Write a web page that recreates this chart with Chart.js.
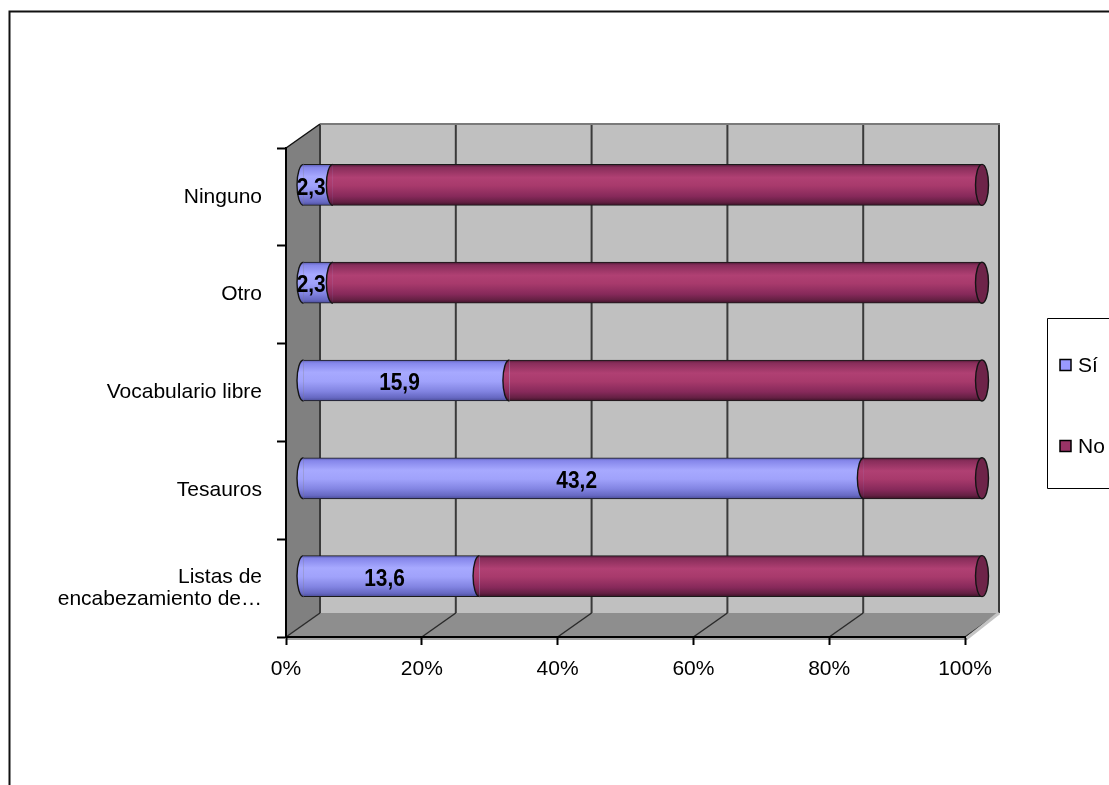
<!DOCTYPE html>
<html lang="es">
<head>
<meta charset="utf-8">
<title>Lenguajes de indización</title>
<script src="https://cdn.jsdelivr.net/npm/chart.js@4.4.0/dist/chart.umd.min.js"></script>
<style>
  html, body { margin: 0; padding: 0; background: #ffffff; }
  #wrap { width: 1109px; height: 785px; position: relative; }
  canvas { display: block; }
</style>
</head>
<body>
<div id="wrap"><canvas id="chart" width="1109" height="785"></canvas></div>
<script>
// ---- data ----
const categories = ['Ninguno', 'Otro', 'Vocabulario libre', 'Tesauros', ['Listas de', 'encabezamiento de…']];
const seriesNames = ['Sí', 'No'];
const siValues = [2.3, 2.3, 15.9, 43.2, 13.6];
const noValues = [50.0, 50.0, 36.4, 9.1, 38.7];
const percentTicks = ['0%', '20%', '40%', '60%', '80%', '100%'];

// each row is shown as a 100 % stack
const rowTotals = siValues.map((v, i) => v + noValues[i]);
const siShare = siValues.map((v, i) => v / rowTotals[i] * 100);
const noShare = noValues.map((v, i) => v / rowTotals[i] * 100);

// ---- look ----
const FONT = "'Liberation Sans', Arial, sans-serif";
const SERIES_COLORS = ['#9999ff', '#993366'];
const SHADES = [
  [[0, '#5a5cb0'], [0.07, '#8586ea'], [0.3, '#a7a9ff'], [0.52, '#a0a2fb'], [0.76, '#8284e2'], [0.92, '#6668c2'], [1, '#4a4c96']],
  [[0, '#4a1933'], [0.07, '#872d5a'], [0.32, '#b04073'], [0.52, '#a83a6c'], [0.78, '#86295a'], [0.92, '#642043'], [1, '#3c1227']]
];
const END_FACE = '#6e2449';
const DEPTH_X = 34, DEPTH_Y = -24;   // oblique depth of the plot box
const CAP_RX = 6.5;                   // horizontal radius of the cylinder ends
const BAR_THICK = 41;

function shade(ctx, yc, h, stops) {
  const g = ctx.createLinearGradient(0, yc - h / 2, 0, yc + h / 2);
  stops.forEach(([o, c]) => g.addColorStop(o, c));
  return g;
}
function barFill(di) {
  return (c) => {
    const ch = c.chart;
    if (c.type !== 'data' || !ch.scales || !ch.scales.y) return SERIES_COLORS[di];
    const yc = ch.scales.y.getPixelForValue(c.dataIndex);
    if (!Number.isFinite(yc)) return SERIES_COLORS[di];
    return shade(ch.ctx, yc, BAR_THICK, SHADES[di]);
  };
}
const fmt = (v) => v.toFixed(1).replace('.', ',');

// walls, floor and grid of the 3-D box, cylinder ends, labels, legend
const box3d = {
  id: 'box3d',
  beforeDraw(chart) {
    const { ctx, chartArea: a, scales: { x } } = chart;
    const L = a.left, R = a.right, T = a.top, B = a.bottom, dx = DEPTH_X, dy = DEPTH_Y;
    const poly = (pts, fill) => {
      ctx.beginPath();
      pts.forEach(([px, py], i) => (i ? ctx.lineTo(px, py) : ctx.moveTo(px, py)));
      ctx.closePath();
      ctx.fillStyle = fill;
      ctx.fill();
    };
    const line = (x1, y1, x2, y2, color, w) => {
      ctx.beginPath();
      ctx.moveTo(x1, y1); ctx.lineTo(x2, y2);
      ctx.strokeStyle = color; ctx.lineWidth = w; ctx.stroke();
    };
    ctx.save();
    poly([[L + dx, T + dy], [R + dx, T + dy], [R + dx, B + dy], [L + dx, B + dy]], '#c0c0c0');
    poly([[L, T], [L + dx, T + dy], [L + dx, B + dy], [L, B]], '#808080');
    poly([[L, B], [L + dx, B + dy], [R + dx, B + dy], [R, B]], '#8e8e8e');
    // front edge of the floor
    poly([[L, B], [R, B], [R + 3, B + 3], [L, B + 3]], '#a4a4a4');
    // grid on the back wall and floor
    x.ticks.forEach((t) => {
      const px = x.getPixelForValue(t.value);
      line(px + dx, T + dy, px + dx, B + dy, '#3a3a3a', 2);
      line(px, B, px + dx, B + dy, '#2a2a2a', 1.5);
    });
    line(L + dx, T + dy, R + dx + 1, T + dy, '#7a7a7a', 2);
    line(L, T, L + dx, T + dy, '#111111', 1.5);
    line(R + 1, B + 2, R + dx, B + dy, '#c4c4c4', 3);
    ctx.restore();
  },
  beforeDatasetsDraw(chart) {
    // bars sit halfway into the box
    chart.ctx.save();
    chart.ctx.translate(DEPTH_X / 2, DEPTH_Y / 2);
  },
  afterDatasetsDraw(chart) {
    const ctx = chart.ctx;
    const last = chart.data.datasets.length - 1;
    chart.data.datasets.forEach((ds, di) => {
      chart.getDatasetMeta(di).data.forEach((bar) => {
        const { x, y, base, height } = bar.getProps(['x', 'y', 'base', 'height'], true);
        const ry = height / 2;
        // near end of the segment
        ctx.beginPath();
        ctx.ellipse(base, y, CAP_RX, ry, 0, Math.PI / 2, Math.PI * 1.5);
        ctx.closePath();
        ctx.fillStyle = shade(ctx, y, height, SHADES[di]);
        ctx.fill();
        ctx.beginPath();
        ctx.ellipse(base, y, CAP_RX, ry, 0, Math.PI / 2, Math.PI * 1.5);
        ctx.strokeStyle = '#141414';
        ctx.lineWidth = 1.4;
        ctx.stroke();
        if (di === last) {
          ctx.beginPath();
          ctx.ellipse(x, y, CAP_RX, ry, 0, 0, Math.PI * 2);
          ctx.fillStyle = END_FACE;
          ctx.fill();
          ctx.strokeStyle = '#141414';
          ctx.lineWidth = 1.4;
          ctx.stroke();
        }
      });
    });
    // values of the "Sí" series, set in a slightly condensed bold face
    const squeeze = 0.87;
    ctx.font = 'bold 24px ' + FONT;
    ctx.fillStyle = '#000000';
    ctx.textAlign = 'center';
    ctx.textBaseline = 'middle';
    chart.getDatasetMeta(0).data.forEach((bar, i) => {
      const { x, y, base } = bar.getProps(['x', 'y', 'base'], true);
      const cx = (x + base) / 2 - 7;
      ctx.save();
      ctx.translate(cx, y + 3);
      ctx.scale(squeeze, 1);
      ctx.fillText(fmt(siValues[i]), 0, 0);
      ctx.restore();
    });
    ctx.restore();
  },
  afterDraw(chart) {
    const ctx = chart.ctx;
    ctx.save();
    // outer frame
    ctx.strokeStyle = '#111111';
    ctx.lineWidth = 2;
    ctx.beginPath();
    ctx.moveTo(9.5, 785);
    ctx.lineTo(9.5, 11.5);
    ctx.lineTo(1109, 11.5);
    ctx.stroke();
    // legend
    const lg = { left: 1047.5, top: 318.5, bottom: 488.5, rows: [365, 446] };
    ctx.lineWidth = 1;
    ctx.strokeStyle = '#000000';
    ctx.beginPath();
    ctx.moveTo(1112, lg.top);
    ctx.lineTo(lg.left, lg.top);
    ctx.lineTo(lg.left, lg.bottom);
    ctx.lineTo(1112, lg.bottom);
    ctx.stroke();
    ctx.font = '21px ' + FONT;
    ctx.textAlign = 'left';
    ctx.textBaseline = 'middle';
    chart.data.datasets.forEach((ds, i) => {
      const cy = lg.rows[i];
      ctx.fillStyle = SERIES_COLORS[i];
      ctx.fillRect(1060, cy - 5.5, 11, 11);
      ctx.strokeStyle = '#000000';
      ctx.lineWidth = 1.5;
      ctx.strokeRect(1060, cy - 5.5, 11, 11);
      ctx.fillStyle = '#000000';
      ctx.fillText(ds.label, 1078, cy + 1);
    });
    ctx.restore();
  }
};

Chart.defaults.font.family = FONT;
Chart.defaults.color = '#000000';

new Chart(document.getElementById('chart'), {
  type: 'bar',
  data: {
    labels: categories,
    datasets: [
      { label: seriesNames[0], data: siShare, backgroundColor: barFill(0) },
      { label: seriesNames[1], data: noShare, backgroundColor: barFill(1) }
    ]
  },
  options: {
    indexAxis: 'y',
    responsive: false,
    animation: false,
    devicePixelRatio: 1,
    events: [],
    layout: { padding: { top: 148, right: 144, bottom: 0, left: 0 } },
    datasets: {
      bar: {
        barThickness: BAR_THICK,
        borderColor: '#1a1a1a',
        borderWidth: { top: 1, right: 0, bottom: 1, left: 0 },
        borderSkipped: false,
        clip: false
      }
    },
    scales: {
      x: {
        stacked: true,
        min: 0,
        max: 100,
        ticks: {
          stepSize: 20,
          padding: 12,
          font: { size: 21 },
          color: '#000000',
          callback: (v, i) => percentTicks[i]
        },
        grid: { drawOnChartArea: false, tickLength: 8, tickWidth: 2, tickColor: '#000000' },
        border: { color: '#000000', width: 2 },
        afterFit: (s) => { s.height = 148; }
      },
      y: {
        stacked: true,
        ticks: {
          padding: 15,
          font: { size: 21, lineHeight: 1.05 },
          color: '#000000'
        },
        grid: { drawOnChartArea: false, tickLength: 9, tickWidth: 2, tickColor: '#000000' },
        border: { color: '#000000', width: 2 },
        afterFit: (s) => { s.width = 286; }
      }
    },
    plugins: {
      legend: { display: false },
      tooltip: { enabled: false }
    }
  },
  plugins: [box3d]
});
</script>
</body>
</html>
